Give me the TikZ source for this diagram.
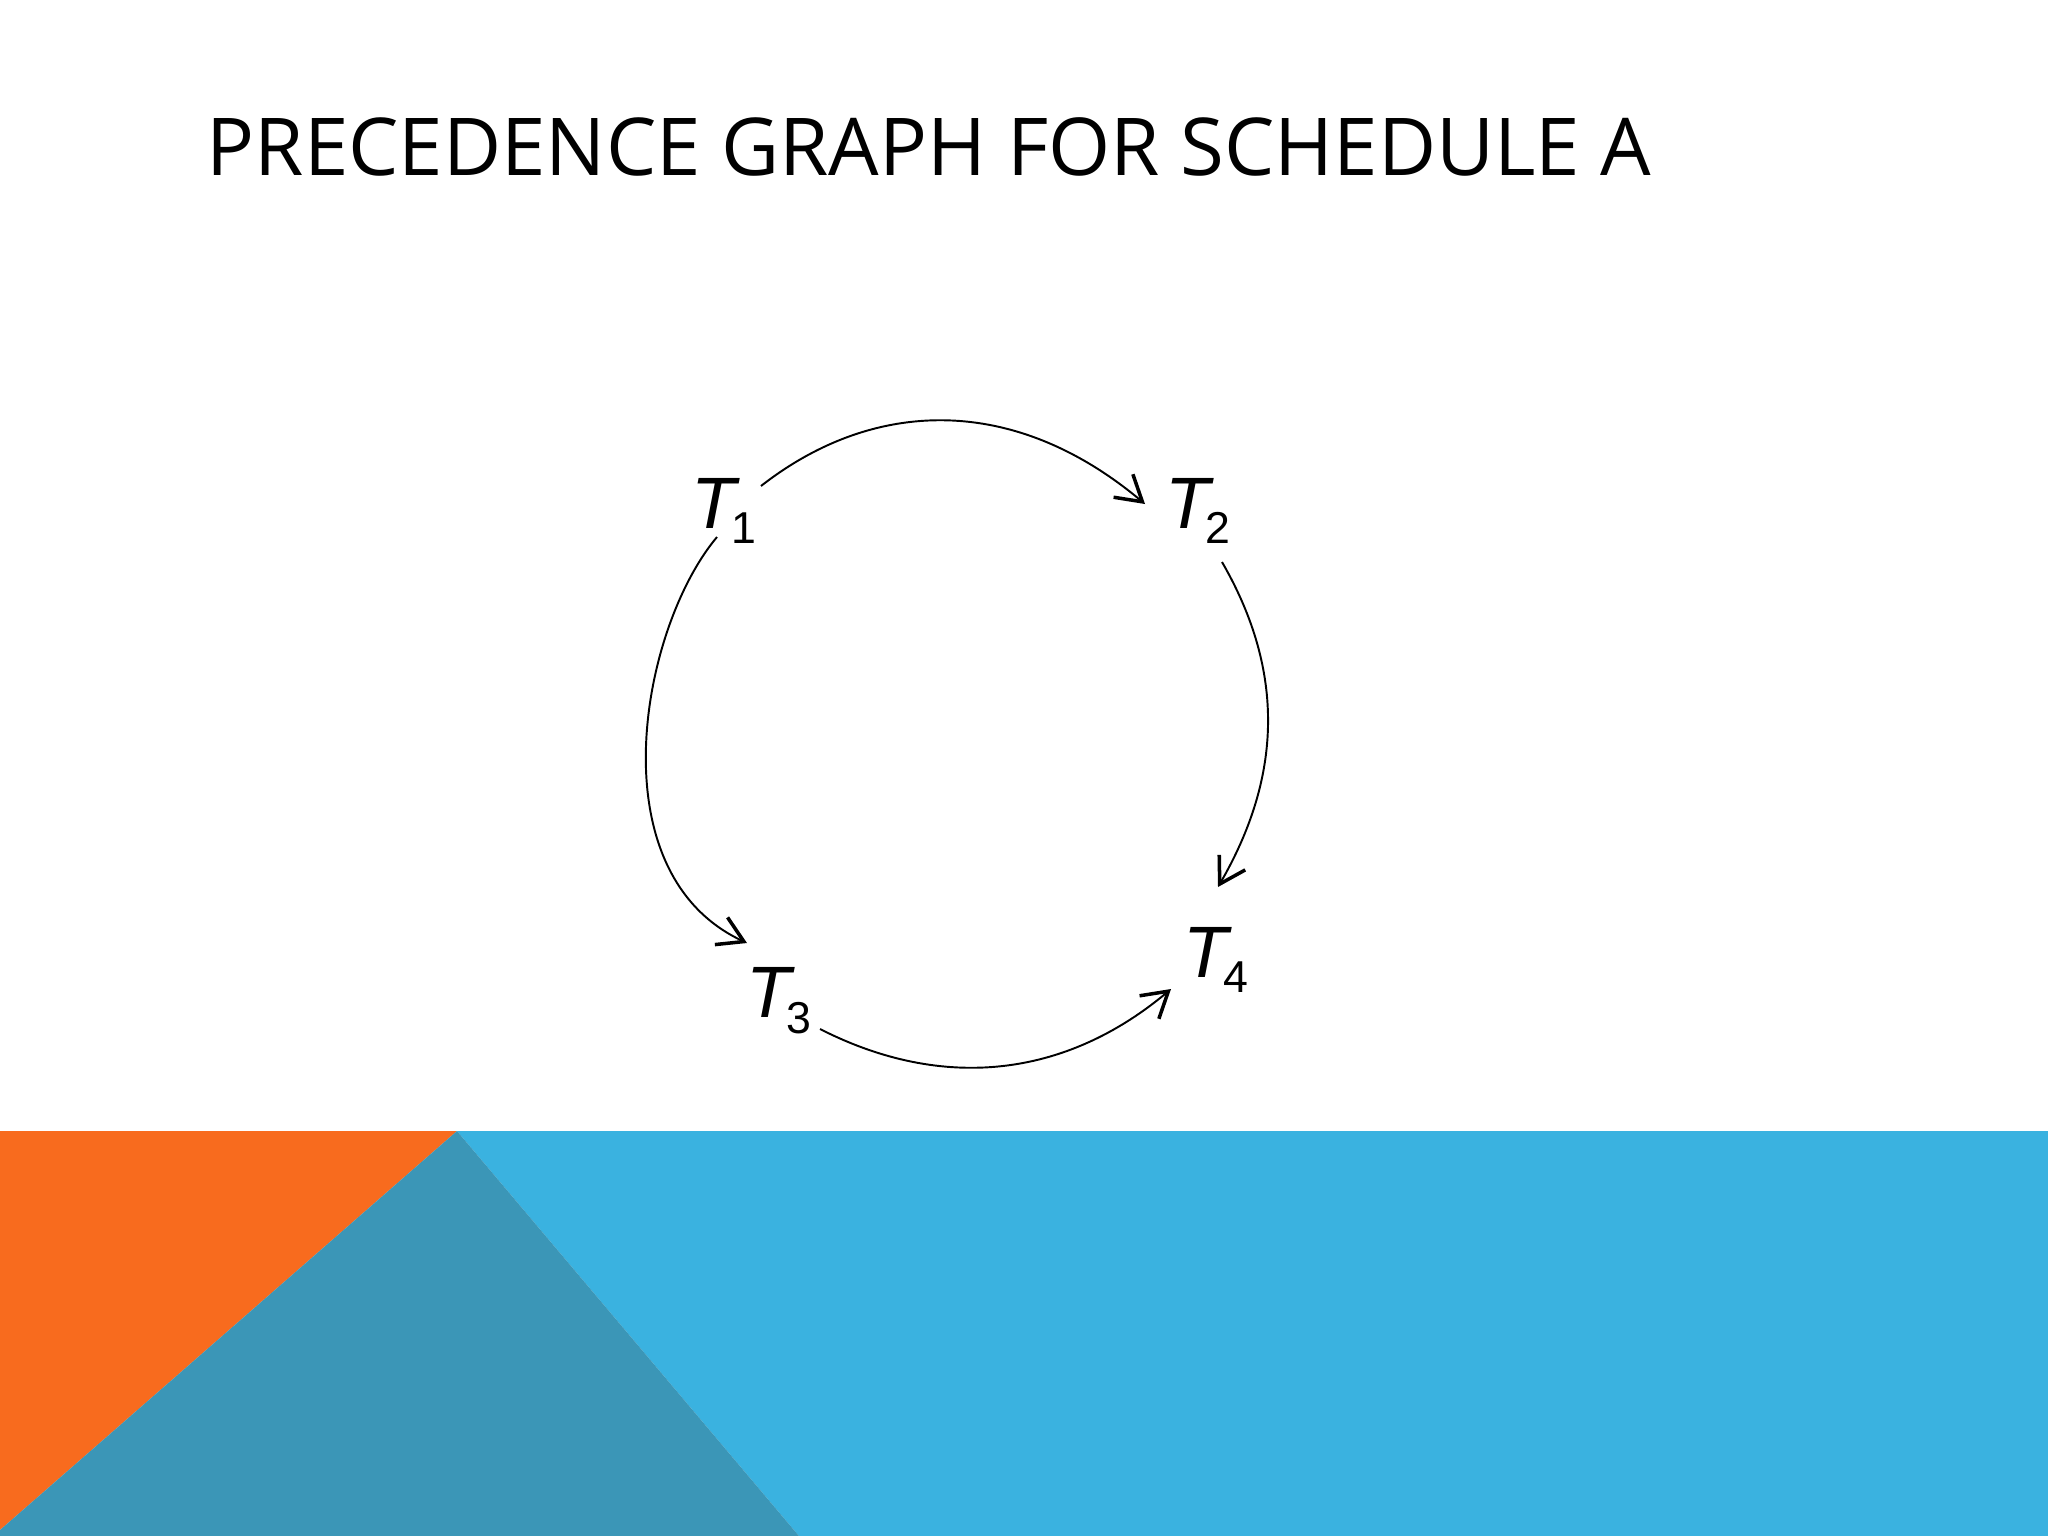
\documentclass[tikz,border=0pt]{standalone}
\usepackage{fontspec}
\setmainfont{Open Sans}
\newfontfamily\graphfont{Liberation Sans}
\usetikzlibrary{arrows.meta}
\usepackage{xcolor}
\definecolor{sorange}{RGB}{248,107,30}
\definecolor{sblue}{RGB}{58,178,224}
\definecolor{steal}{RGB}{59,150,183}

\newcommand{\task}[1]{{\itshape T}\kern-1.5pt\raisebox{-4.5pt}{\fontsize{12.7pt}{14pt}\selectfont #1}}

\begin{document}
\begin{tikzpicture}[
    x=0.01cm,
    y=-0.01cm,
    tnode/.style={inner sep=0pt,
        outer sep=0pt,
        font=\graphfont\fontsize{20.7pt}{24pt}\selectfont},
    prec/.style={line width=0.55pt,
        -{Straight Barb[length=2.5mm, width=3mm, line width=1pt]}}]

\useasboundingbox (0,0) rectangle (2048,1536);

% Bottom band
\fill[sblue] (457,1131) -- (2048,1131) -- (2048,1536) -- (799,1536) -- cycle;
\fill[sorange] (0,1131) -- (457,1131) -- (0,1530) -- cycle;
\fill[steal] (457,1131) -- (799,1536) -- (0,1536) -- (0,1530) -- cycle;

% Title
\node[anchor=base west, inner sep=0pt,
    font=\fontsize{22.7pt}{27pt}\selectfont] (title) at (206,175)
    {PRECEDENCE GRAPH FOR SCHEDULE A};

% Transactions
\node[tnode] (t1) at (724,511) {\task{1}};
\node[tnode] (t2) at (1198,511) {\task{2}};
\node[tnode] (t3) at (779,1001) {\task{3}};
\node[tnode] (t4) at (1216,960) {\task{4}};

% Edges
\draw[prec] ([shift={(37,-25)}]t1.center)
    to[out=38, in=140, out looseness=0.96, in looseness=1.13]
    ([shift={(-53,-7)}]t2.center);
\draw[prec] ([shift={(-7,26)}]t1.center)
    to[out=-130, in=155, out looseness=0.75, in looseness=1.05]
    ([shift={(-32,-58)}]t3.center);
\draw[prec] ([shift={(24,51)}]t2.center)
    to[out=-60, in=60] ([shift={(2,-73)}]t4.center);
\draw[prec] ([shift={(41,28)}]t3.center)
    to[out=-27, in=-140] ([shift={(-45,29)}]t4.center);

\end{tikzpicture}
\end{document}
